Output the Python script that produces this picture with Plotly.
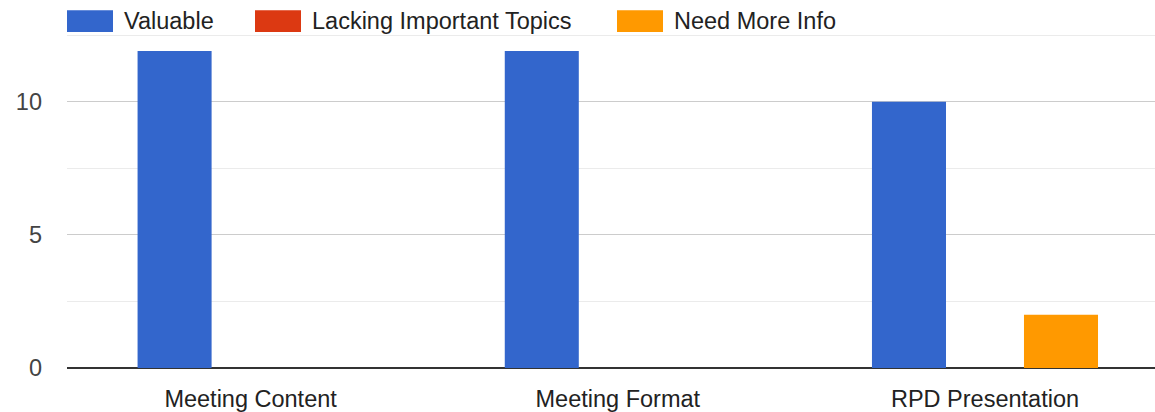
import plotly.graph_objects as go

categories = ["Meeting Content", "Meeting Format", "RPD Presentation"]
series_names = ["Valuable", "Lacking Important Topics", "Need More Info"]
valuable = [11.9, 11.9, 10]
lacking = [0, 0, 0]
need_more = [0, 0, 2]
colors = ["#3366cc", "#dc3912", "#ff9900"]

W, H = 1155, 412
L, R, T, B = 67, 0, 34, 42
YMAX = 12.54

fig = go.Figure()
for name, vals, col in zip(series_names, [valuable, lacking, need_more], colors):
    fig.add_trace(go.Bar(x=categories, y=vals, name=name, marker_color=col,
                         marker_line_width=0, showlegend=False))

pw = W - L - R
ph = H - T - B
def px2x(p):
    return (p - L) / pw
def py2y(p):
    return (H - B - p) / ph

legend_items = [(67, 125), (255, 313), (617, 675)]
shapes = []
annotations = []
for (sx, tx), name, col in zip(legend_items, series_names, colors):
    shapes.append(dict(type="rect", xref="paper", yref="paper",
                       x0=px2x(sx), x1=px2x(sx + 46), y0=py2y(32), y1=py2y(10),
                       fillcolor=col, line=dict(width=0)))
    annotations.append(dict(xref="paper", yref="paper", x=px2x(tx - 3), y=py2y(21),
                            text=name, showarrow=False, xanchor="left", yanchor="middle",
                            font=dict(family="Liberation Sans, Arial", size=23.5, color="#222222")))

fig.update_layout(
    width=W, height=H,
    margin=dict(l=L, r=R, t=T, b=B, pad=0),
    paper_bgcolor="white", plot_bgcolor="white",
    barmode="group", bargap=0.379, bargroupgap=0.026,
    font=dict(family="Liberation Sans, Arial", size=23.5, color="#444444"),
    shapes=shapes, annotations=annotations,
    xaxis=dict(range=[-0.5, 2.463], showgrid=False, showline=False, ticks="",
               ticklabelstandoff=14, tickfont=dict(color="#222222"), fixedrange=True),
    yaxis=dict(range=[0, YMAX], dtick=5, tick0=0, showgrid=True, gridcolor="#cccccc",
               gridwidth=1, zeroline=True, zerolinecolor="#333333", zerolinewidth=2,
               minor=dict(dtick=2.5, tick0=0, showgrid=True, gridcolor="#ebebeb", gridwidth=1),
               ticklabelstandoff=24, tickfont=dict(color="#444444"), fixedrange=True),
)

fig.write_html("out.html", config={"displayModeBar": False},
               post_script="document.body.style.margin='0';document.body.style.overflow='hidden';")
